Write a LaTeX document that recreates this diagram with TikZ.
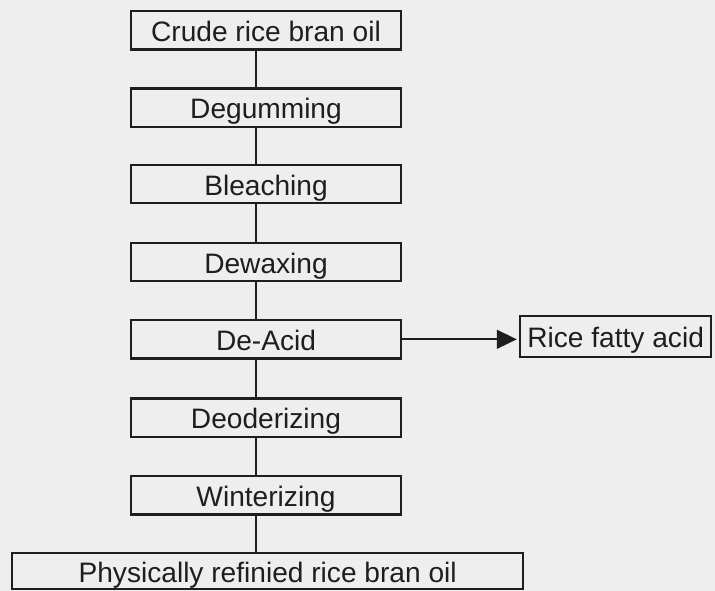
\documentclass[tikz,border=0pt]{standalone}
\usepackage{fontspec}
\setmainfont{Liberation Sans}
\usepackage{tikz}
\usepackage{xcolor}
\usetikzlibrary{arrows.meta,positioning,calc}
\definecolor{ScanPaper}{HTML}{EEEEEE}
\definecolor{ScanInk}{HTML}{1E1E1E}
\tikzset{
    % Base box style
    stagebox/.style={
        draw=ScanInk,
        fill=ScanPaper,
        line width=1.8pt,
        minimum height=1.15cm,
        minimum width=8.1cm,
        inner sep=0pt,
        text height=19pt,
        text depth=0pt,
        align=center,
        text=ScanInk,
        font=\fontsize{24}{28}\selectfont
    },
    % Output box (wide)
    productbox/.style={
        stagebox,
        minimum width=15.33cm
    },
    % Side product box
    sidebox/.style={
        stagebox,
        minimum width=5.73cm,
        minimum height=1.23cm
    },
    % Plain joining line
    joinline/.style={
        line width=1.8pt,
        draw=ScanInk
    },
    % Arrow
    myarrow/.style={
        -{Triangle[length=17pt,width=16pt]},
        line width=1.8pt,
        draw=ScanInk,
        shorten >=2pt
    }
}
\begin{document}
\begin{tikzpicture}
        % Paper
        \fill[ScanPaper] (0,0) rectangle (21.45,17.73);
        \useasboundingbox (0,0) rectangle (21.45,17.73);

        % Process stages
        \node[stagebox] (crude) at (7.98,16.82) {Crude rice bran oil};
        \node[stagebox] (degum) at (7.98,14.50) {Degumming};
        \node[stagebox] (bleach) at (7.98,12.21) {Bleaching};
        \node[stagebox] (dewax) at (7.98,9.87) {Dewaxing};
        \node[stagebox] (deacid) at (7.98,7.55) {De-Acid};
        \node[stagebox] (deodor) at (7.98,5.20) {Deoderizing};
        \node[stagebox] (winter) at (7.98,2.87) {Winterizing};

        % Final product
        \node[productbox, minimum height=1.1cm] (refined) at (8.03,0.60) {Physically refinied rice bran oil};

        % Side product
        \node[sidebox] (fatty) at (18.47,7.64) {Rice fatty acid};

        % Joining lines
        \draw[joinline] ([xshift=-0.3cm]crude.south) -- ([xshift=-0.3cm]degum.north);
        \draw[joinline] ([xshift=-0.3cm]degum.south) -- ([xshift=-0.3cm]bleach.north);
        \draw[joinline] ([xshift=-0.3cm]bleach.south) -- ([xshift=-0.3cm]dewax.north);
        \draw[joinline] ([xshift=-0.3cm]dewax.south) -- ([xshift=-0.3cm]deacid.north);
        \draw[joinline] ([xshift=-0.3cm]deacid.south) -- ([xshift=-0.3cm]deodor.north);
        \draw[joinline] ([xshift=-0.3cm]deodor.south) -- ([xshift=-0.3cm]winter.north);
        \draw[joinline] ([xshift=-0.3cm]winter.south) -- ([xshift=-0.3cm]winter.south |- refined.north);

        % Arrow
        \draw[myarrow] (deacid.east) -- (deacid.east -| fatty.west);
    \end{tikzpicture}
\end{document}
